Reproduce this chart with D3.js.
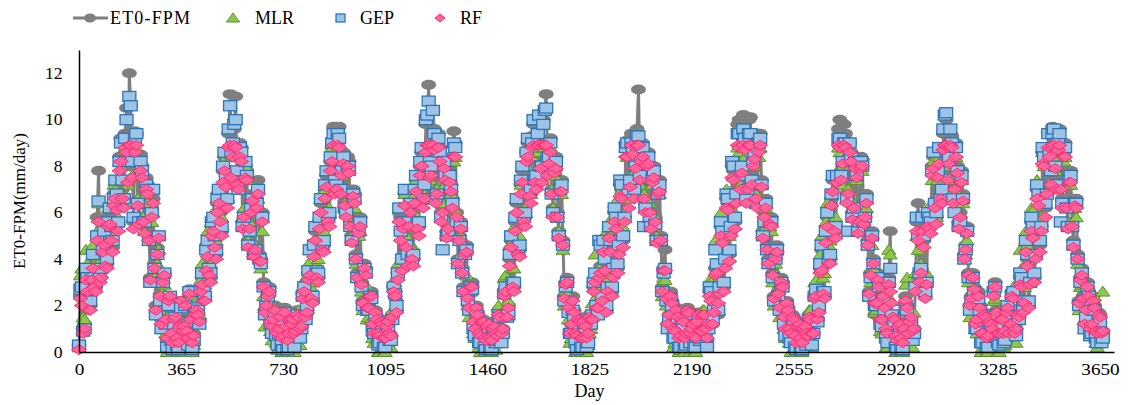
<!DOCTYPE html>
<html>
<head>
<meta charset="utf-8">
<script src="https://cdn.jsdelivr.net/npm/d3@7"></script>
<style>
  body { margin: 0; background: #fff; }
  svg { display: block; }
  svg text { font-family: "Liberation Serif", "Times New Roman", Times, "DejaVu Serif", serif; }
</style>
</head>
<body>
<div id="chart"></div>
<script>
// two interleaved samplings: days 0,10,20,... and days 5,15,25,...
var daysA = d3.range(0, 3661, 10);
var daysB = d3.range(5, 3656, 10);
var xTicks = [0, 365, 730, 1095, 1460, 1825, 2190, 2555, 2920, 3285, 3650];
var yTicks = [0, 2, 4, 6, 8, 10, 12];
var seriesNames = ["ET0-FPM", "MLR", "GEP", "RF"];

var et0A = [
  0.3,2.5,1.2,3.0,2.0,4.0,2.8,7.8,3.5,5.0,3.8,6.0,4.5,7.2,5.5,9.2,6.5,10.5,12.0,8.0,9.5,6.5,8.5,5.8,7.5,5.0,6.2,3.8,4.5,2.5,3.4,1.5,2.4,0.8,1.6,0.5,1.2,
  1.0,2.2,0.6,1.5,0.8,2.0,1.4,3.2,2.4,4.5,3.2,5.6,4.2,6.8,5.2,8.4,6.5,11.1,9.0,11.0,7.2,8.8,6.0,7.8,5.5,6.8,4.6,7.4,4.0,3.0,2.2,2.8,1.2,2.0,0.8,1.6,0.6,1.2,0.7,
  1.3,0.7,1.8,1.0,2.5,1.6,3.4,2.4,4.4,3.4,5.6,4.6,7.0,5.8,8.2,9.7,7.2,9.7,8.0,6.5,8.4,5.6,7.0,4.2,5.4,3.0,3.8,2.0,2.6,1.2,1.8,0.7,1.4,0.5,1.2,0.8,
  1.6,2.6,3.4,5.8,6.0,4.8,5.8,4.2,6.8,5.6,8.0,6.5,9.8,11.5,8.0,9.6,7.0,8.8,6.2,7.8,5.5,7.2,9.5,6.0,5.0,3.6,4.4,2.4,3.0,1.4,2.0,0.8,1.4,0.6,1.2,0.5,1.0,0.8,
  1.8,0.8,2.6,1.6,4.0,3.0,5.6,4.4,7.2,5.8,8.6,7.0,9.3,7.6,9.6,8.2,10.0,11.1,8.5,7.0,8.0,6.0,7.2,4.8,3.0,2.0,1.2,1.8,0.7,1.4,0.6,1.2,0.8,1.5,2.8,2.0,3.4,
  2.4,3.8,2.8,4.6,3.4,5.6,4.4,7.0,5.8,9.1,7.4,9.0,8.2,11.3,8.6,6.8,8.4,6.2,7.6,5.8,7.0,5.0,3.6,2.4,1.6,2.2,0.9,1.6,0.6,1.3,0.8,1.8,1.0,0.6,1.4,0.9,1.7,1.1,
  1.2,2.4,1.8,3.6,2.6,5.0,3.8,6.4,5.2,7.8,6.6,10.0,8.0,9.6,7.2,10.1,8.4,6.8,9.4,7.4,6.0,4.6,5.8,3.4,4.2,2.6,3.2,1.6,2.2,1.0,1.6,0.6,1.2,0.5,1.0,0.8,
  1.6,0.7,2.4,1.4,3.6,2.6,5.0,4.0,6.6,5.4,7.6,10.0,8.4,9.4,7.0,8.6,6.4,7.8,5.8,8.3,6.0,4.8,3.4,4.0,2.2,3.0,1.4,2.0,0.8,5.2,1.6,0.6,1.2,0.5,1.0,2.0,1.4,0.9,
  2.8,6.4,3.6,4.8,3.0,5.6,8.0,6.4,7.8,6.8,9.4,10.0,8.4,9.3,7.2,8.0,6.0,6.8,4.6,3.4,2.4,2.8,1.4,2.0,0.8,1.6,0.6,1.2,2.6,1.8,0.7,1.4,0.9,2.0,1.2,2.4,1.0,
  1.6,3.0,2.2,4.0,3.0,5.2,4.2,6.6,5.4,8.6,7.0,8.8,9.7,8.2,9.4,7.2,9.0,6.4,7.6,5.6,6.6,4.2,3.2,2.4,1.8,2.6,1.2,2.0,0.8,1.6,0.9
];
var et0B = [
  2.4,1.0,3.2,2.0,3.2,3.0,5.8,3.2,4.6,4.0,5.8,5.2,6.8,6.6,8.4,7.0,9.4,8.0,10.6,5.6,9.4,5.8,8.0,5.4,7.2,3.2,6.6,2.0,5.0,1.4,3.4,0.5,2.4,0.3,1.8,0.3,2.2,
  1.2,0.9,2.7,0.2,1.8,1.7,2.8,2.4,4.4,3.5,5.4,4.8,6.4,6.0,7.8,7.8,9.4,8.4,9.6,7.6,9.0,5.6,8.0,4.8,6.4,4.4,6.6,4.2,6.0,1.8,2.6,1.4,1.5,0.9,1.1,0.5,1.9,0.4,1.5,
  1.5,0.9,1.7,1.1,2.8,1.8,3.6,2.2,5.2,3.2,6.4,4.6,7.6,5.8,8.8,7.2,9.6,7.2,8.6,6.2,8.2,5.0,6.8,3.4,5.8,2.2,3.6,2.0,2.6,0.8,1.5,0.7,1.3,0.5,1.4,0.7,
  2.8,1.8,6.0,3.8,6.8,4.0,6.4,4.0,7.4,5.4,8.6,7.0,10.0,8.0,10.4,6.8,9.4,6.0,8.4,5.2,7.8,6.6,9.0,4.0,5.6,2.8,4.6,2.0,3.0,1.0,1.7,0.7,1.4,0.4,1.3,0.4,1.2,0.7,
  1.7,1.0,2.8,2.0,4.8,2.8,6.4,4.4,7.8,5.8,9.0,6.8,9.8,7.4,10.2,7.8,10.4,8.2,9.2,6.2,8.4,5.2,7.4,2.4,3.2,0.8,2.4,0.7,1.5,0.5,1.4,0.5,1.6,1.4,3.2,2.0,3.7,
  4.6,1.8,5.2,2.6,6.0,3.6,7.2,4.8,9.0,6.6,9.4,7.0,9.6,8.0,9.0,6.4,8.6,5.6,8.0,5.0,7.4,2.8,4.4,1.2,2.6,0.9,1.9,0.5,1.5,0.5,1.9,0.7,1.3,0.5,1.7,0.9,1.7,0.5,
  2.6,1.2,3.6,1.6,5.4,2.8,6.6,4.2,8.0,5.6,9.8,7.4,10.2,6.8,10.0,7.6,8.8,6.6,9.4,5.2,6.6,4.0,5.8,2.4,4.6,2.0,3.0,1.0,1.9,0.7,1.5,0.3,1.3,0.3,1.2,0.7,
  1.5,0.8,2.6,1.8,4.4,2.4,5.8,4.0,7.4,5.2,9.6,7.8,9.8,6.8,9.0,6.0,8.4,5.4,8.4,5.8,6.8,2.6,5.2,1.6,3.4,1.4,2.6,0.9,3.2,1.6,1.5,0.4,1.3,0.2,2.4,0.8,1.6,1.0,
  5.6,3.2,5.6,2.4,5.8,5.4,8.4,5.8,8.6,6.8,9.4,7.8,9.2,6.8,9.0,5.6,7.8,4.2,5.4,2.0,3.4,1.2,2.6,0.7,1.7,0.5,1.4,1.0,3.0,0.7,1.5,0.7,1.9,0.8,2.6,0.8,1.7,
  3.2,1.8,4.6,2.0,5.6,3.2,7.0,4.6,8.6,6.2,9.4,7.6,9.5,7.4,9.6,6.6,9.0,5.6,7.8,4.8,6.6,2.2,3.6,1.2,3.0,1.0,2.4,0.9,1.7,0.7
];

var mlrA = [
  0.2,3.6,1.4,3.8,2.6,4.6,3.4,6.4,4.0,5.6,4.4,6.4,5.0,7.0,5.8,8.0,6.4,8.2,8.6,7.6,8.2,6.6,7.6,5.8,6.8,4.8,5.6,3.2,3.8,1.8,2.6,0.8,1.6,0.2,0.9,0.0,0.6,
  0.3,1.8,0.1,1.2,0.3,2.2,1.6,3.8,2.9,5.2,3.8,6.0,4.8,7.0,5.8,8.0,6.6,8.8,8.4,8.8,7.2,8.0,6.2,7.4,5.6,6.4,4.6,6.6,3.6,2.4,1.6,2.2,0.5,1.2,0.1,0.8,0.0,0.6,0.0,
  0.8,0.0,1.4,0.3,2.8,1.6,3.8,2.8,4.8,3.8,5.8,5.0,7.0,6.0,7.8,8.4,7.0,8.4,7.6,6.4,7.8,5.6,6.6,3.8,5.0,2.6,3.4,1.4,2.0,0.6,1.2,0.0,0.8,0.0,0.6,0.2,
  1.8,3.0,3.8,5.4,5.6,5.0,5.8,4.6,6.8,5.8,7.6,6.6,8.4,8.8,7.6,8.4,7.0,8.0,6.4,7.2,5.6,6.8,8.2,6.0,5.0,3.4,4.2,2.0,2.6,0.8,1.4,0.2,0.8,0.0,0.6,0.0,0.4,0.1,
  2.0,0.6,3.2,2.0,4.6,3.6,5.8,4.8,7.2,6.0,8.0,7.0,8.4,7.4,8.6,7.8,8.8,9.0,8.0,7.0,7.6,5.8,6.8,4.4,2.6,1.4,0.6,1.2,0.0,0.8,0.0,0.6,0.3,1.0,3.2,2.4,3.6,
  2.8,4.2,3.2,5.0,3.8,6.0,4.8,7.0,6.0,8.4,7.2,8.4,7.8,8.8,8.0,6.8,7.8,6.4,7.2,5.8,6.8,4.8,3.2,2.0,1.2,1.8,0.4,1.2,0.1,0.8,0.3,1.4,0.5,0.0,1.0,0.4,1.8,0.6,
  1.6,3.0,2.4,4.4,3.2,5.6,4.4,6.6,5.6,7.6,6.8,8.6,7.8,8.4,7.2,8.6,8.0,6.8,8.4,7.2,5.8,4.4,5.4,3.0,3.8,2.2,2.8,1.0,1.6,0.4,1.0,0.0,0.6,0.0,0.4,0.2,
  1.8,0.2,3.0,1.8,4.2,3.2,5.6,4.6,6.8,5.8,7.6,8.6,8.0,8.4,7.0,8.0,6.4,7.4,5.8,7.8,6.0,4.6,3.0,3.6,1.8,2.6,0.8,1.4,0.2,4.2,1.0,0.0,0.6,0.0,0.4,3.2,0.8,0.2,
  3.4,4.4,3.8,5.2,3.4,5.8,7.4,6.4,7.4,6.6,8.4,8.8,8.0,8.6,7.0,7.6,5.8,6.4,4.2,3.0,1.8,2.4,0.8,1.4,0.2,1.0,0.0,0.6,2.2,1.2,0.0,0.8,0.3,1.6,0.6,2.8,0.4,
  2.0,3.6,2.8,4.6,3.6,6.1,4.8,6.8,5.8,8.0,7.0,8.2,8.6,7.8,8.4,7.2,8.2,6.4,7.2,5.4,6.2,3.8,2.8,2.0,1.4,2.6,0.8,2.4,0.2,1.2,2.6
];
var mlrB = [
  3.3,1.5,4.4,2.8,4.4,3.8,5.2,4.0,5.2,4.8,6.2,5.6,7.2,6.4,8.2,6.8,8.8,7.2,8.8,5.8,8.8,5.8,7.6,5.2,6.4,3.0,6.0,1.9,4.4,1.0,2.9,0.0,1.6,0.0,1.0,0.0,1.4,
  0.6,0.4,2.3,0.0,1.6,2.1,3.1,3.0,4.8,4.2,5.8,5.2,7.0,6.2,8.2,7.2,8.8,7.4,8.8,7.2,8.8,5.8,8.0,4.8,6.2,4.4,6.4,4.0,5.2,1.1,1.6,0.9,0.8,0.4,0.4,0.0,1.2,0.0,0.8,
  0.8,0.4,1.8,1.5,3.1,1.8,4.4,3.0,5.6,4.0,6.8,5.2,7.8,6.2,8.8,7.0,8.8,7.0,8.2,6.2,7.8,5.0,6.2,3.2,5.2,1.8,2.9,1.5,1.4,0.4,0.6,0.0,0.4,0.0,0.4,0.2,
  3.1,2.4,6.2,4.2,6.8,4.2,6.4,4.4,7.4,5.6,8.4,6.8,8.8,7.4,8.8,6.6,8.8,6.0,8.0,5.2,7.4,6.4,8.4,4.0,5.0,2.6,3.3,1.5,1.8,0.6,0.8,0.0,0.5,0.0,0.4,0.0,0.4,1.0,
  1.6,1.7,3.3,2.2,5.2,3.6,6.6,5.0,8.0,6.2,8.8,6.8,8.8,7.2,8.8,7.4,8.8,7.6,8.8,6.2,8.0,5.2,6.8,2.0,2.5,0.4,1.2,0.0,0.4,0.0,0.4,0.0,0.8,2.1,4.2,2.2,4.8,
  5.0,2.4,5.6,3.4,6.4,4.4,7.4,5.4,8.8,6.6,8.8,6.8,8.8,7.2,8.6,6.4,8.2,5.6,7.6,5.0,6.8,2.4,3.1,1.0,1.4,0.2,1.0,0.0,0.6,0.0,1.0,0.0,0.4,0.0,1.0,0.4,1.8,0.4,
  3.1,1.9,4.8,2.6,6.0,3.8,7.0,5.0,8.2,6.0,8.8,7.2,8.8,6.6,8.8,7.2,8.4,6.4,8.8,5.2,6.2,3.8,5.2,2.0,3.3,1.5,2.3,0.6,1.0,0.0,0.6,0.0,0.5,0.0,0.6,0.8,
  1.8,1.5,3.1,2.2,5.0,3.4,6.4,4.8,7.6,5.8,8.8,7.2,8.8,6.6,8.6,6.0,8.0,5.4,8.0,5.8,6.2,2.4,4.6,1.7,2.7,0.9,1.4,0.2,4.4,2.2,0.8,0.0,0.4,0.0,2.9,1.3,1.0,1.7,
  5.0,3.0,5.8,3.0,6.2,5.6,8.2,5.8,8.4,6.8,8.8,7.4,8.8,6.6,8.4,5.6,7.4,4.0,4.8,1.5,2.7,1.0,1.4,0.0,0.8,0.0,0.6,0.9,2.3,0.0,0.8,0.2,1.4,0.8,2.5,1.1,1.8,
  4.4,2.0,5.2,3.0,6.2,4.2,7.4,5.4,8.6,6.4,8.8,7.2,8.8,7.0,8.8,6.4,8.4,5.6,7.2,4.6,5.8,1.8,2.9,1.0,2.9,0.9,2.3,0.4,1.0,1.1
];

var gepA = [
  0.3,2.8,1.0,3.2,2.2,4.2,3.0,6.5,3.6,5.2,4.0,6.2,4.8,7.4,5.6,9.0,6.6,10.0,11.0,8.2,9.2,6.4,8.2,5.6,7.2,4.8,6.0,3.6,4.2,2.2,3.0,1.2,2.0,0.5,1.2,0.3,0.9,
  0.6,2.0,0.3,1.3,0.5,1.9,1.2,3.4,2.4,4.8,3.4,5.8,4.4,7.0,5.4,8.6,6.6,10.6,9.0,10.0,7.0,8.6,5.8,7.6,5.2,6.6,4.4,7.0,3.8,2.8,2.0,2.6,0.8,1.6,0.3,1.2,0.1,0.9,0.2,
  1.0,0.2,1.6,0.6,2.4,1.4,3.5,2.4,4.6,3.5,5.8,4.6,7.2,5.8,8.4,9.4,7.2,9.2,7.8,6.2,8.0,5.4,6.8,4.0,5.2,2.8,3.6,1.8,2.4,0.9,1.5,0.3,1.0,0.2,0.9,0.5,
  1.4,2.5,3.4,5.2,5.6,4.6,5.6,4.0,7.0,5.6,8.2,6.6,10.0,10.8,8.0,9.4,6.8,8.6,4.4,7.6,5.2,7.0,9.0,5.6,4.8,3.4,4.2,2.2,2.8,1.0,1.6,0.4,1.0,0.2,0.9,0.1,0.7,0.4,
  1.6,0.4,2.5,1.5,4.2,3.0,5.8,4.5,7.4,5.8,8.6,7.0,9.0,7.4,9.4,8.0,9.8,10.5,8.4,6.8,7.8,5.8,7.0,4.6,2.8,1.7,0.8,1.4,0.1,1.0,0.2,0.8,0.4,1.2,3.0,2.0,4.8,
  2.4,4.0,2.8,4.8,3.6,5.8,4.6,7.2,5.8,9.0,7.4,8.8,8.0,9.3,8.4,5.4,8.2,5.8,7.4,5.5,6.8,4.8,3.4,2.2,1.4,2.0,0.6,1.4,0.2,1.0,0.3,1.6,0.7,0.2,1.2,0.5,1.4,0.7,
  1.0,2.6,1.8,3.8,2.8,5.2,4.0,6.6,5.4,8.0,6.8,9.4,8.0,9.2,7.0,9.4,8.2,6.4,9.0,7.2,5.6,4.4,5.6,3.2,4.0,2.4,3.0,1.2,2.0,0.6,1.2,0.2,0.8,0.1,0.6,0.3,
  1.4,0.3,2.4,1.3,3.8,2.6,5.2,4.0,6.8,5.4,7.6,9.2,8.2,9.0,5.2,8.4,6.2,7.6,5.6,8.0,5.8,4.6,3.2,3.8,2.0,2.8,1.1,1.8,0.4,3.6,1.3,0.2,0.9,0.1,0.7,1.8,1.0,0.5,
  2.8,5.0,3.6,5.0,3.0,5.8,7.8,6.4,7.8,6.6,9.6,10.3,8.4,9.0,6.0,7.8,5.6,6.6,4.4,3.2,2.2,2.6,1.0,1.8,0.4,1.3,0.2,0.9,2.6,1.6,0.3,1.1,0.5,2.0,0.9,2.6,0.7,
  1.4,3.2,2.2,4.2,3.0,5.4,4.2,6.8,5.4,8.4,6.8,8.6,9.4,8.0,9.0,5.6,8.6,6.2,7.4,5.4,6.4,4.0,3.0,2.2,1.5,2.4,0.8,1.8,0.4,1.3,0.6
];
var gepB = [
  2.7,0.9,3.6,2.2,3.2,3.2,5.0,3.4,4.4,4.2,5.6,5.4,6.6,6.8,8.2,7.4,9.2,8.2,10.6,5.8,9.4,5.6,7.8,5.6,7.0,3.0,7.0,1.6,5.0,1.0,3.4,0.2,2.4,0.1,1.5,0.1,1.9,
  0.9,0.7,2.6,0.1,1.6,1.8,2.6,2.6,4.4,3.6,5.6,5.0,6.6,6.2,8.0,7.6,9.6,8.6,9.8,7.8,8.8,5.4,8.2,4.6,6.2,4.2,6.4,4.0,5.8,1.6,2.4,1.2,1.2,0.7,0.8,0.3,1.7,0.1,1.3,
  1.2,0.7,1.4,1.0,2.8,2.0,4.4,2.4,5.4,3.4,6.6,4.8,7.8,6.0,9.0,7.4,9.4,7.0,8.4,6.0,8.0,4.8,6.6,3.2,5.6,2.0,3.4,1.8,2.3,0.8,1.2,0.4,1.0,0.2,1.1,0.5,
  2.8,2.0,6.2,4.0,7.0,4.2,6.4,4.2,7.6,5.6,8.8,7.2,10.2,8.2,10.4,6.6,9.2,5.8,8.2,5.0,7.6,6.4,8.8,3.8,5.4,2.6,4.4,1.8,2.7,0.7,1.4,0.4,1.1,0.1,1.0,0.1,0.9,0.5,
  1.5,0.8,2.8,1.6,5.0,3.0,6.6,4.6,8.0,6.0,9.2,7.0,10.0,7.6,10.2,8.0,10.4,8.4,9.0,6.0,8.2,5.0,7.2,2.2,3.0,0.8,1.8,0.4,1.1,0.2,1.0,0.2,1.3,1.6,3.4,1.6,4.6,
  4.8,2.0,5.4,2.8,6.2,3.8,7.4,5.0,8.8,6.8,9.0,7.0,9.3,7.6,8.8,6.2,8.4,5.4,7.8,4.8,7.2,2.6,3.6,1.0,2.3,0.6,1.6,0.2,1.2,0.2,1.6,0.4,1.0,0.2,1.4,0.6,1.4,0.2,
  2.8,1.4,4.4,1.8,5.6,3.0,6.8,4.4,8.2,5.8,9.4,7.6,9.6,6.6,9.4,7.4,8.6,6.4,9.2,5.0,6.4,3.8,5.6,2.2,4.4,1.8,2.8,0.7,1.6,0.4,1.2,0.1,1.0,0.1,0.9,0.5,
  1.3,0.8,2.7,2.0,4.6,2.6,6.0,4.2,7.6,5.4,9.2,7.6,9.0,6.6,9.0,5.8,8.2,5.2,8.2,5.6,6.6,2.4,5.0,2.0,3.2,1.2,2.3,0.6,3.0,1.6,1.2,0.1,1.0,0.1,1.9,0.9,1.3,0.8,
  5.8,3.4,5.8,2.6,6.0,5.6,8.6,6.0,8.8,7.0,10.2,8.2,9.6,6.6,8.8,5.4,7.6,4.0,5.2,1.8,3.2,1.0,2.3,0.4,1.4,0.2,1.1,0.8,2.8,0.4,1.2,0.4,1.6,0.9,2.4,0.9,1.4,
  3.4,2.0,4.8,2.2,5.8,3.4,7.2,4.8,8.8,6.4,9.4,7.8,9.6,7.2,9.4,6.4,8.8,5.4,7.6,4.6,6.4,2.0,3.4,1.0,2.8,0.7,1.8,0.6,1.4,0.4
];

var rfA = [
  0.1,2.0,1.0,2.6,1.8,3.6,2.6,5.6,3.2,4.6,3.6,5.5,4.3,6.6,5.2,8.2,6.2,8.6,8.9,7.5,8.6,6.3,7.8,5.6,7.0,4.8,5.8,3.6,4.2,2.4,3.0,1.4,2.2,0.8,1.4,0.6,1.1,
  0.9,2.0,0.6,1.4,0.7,1.8,1.3,2.9,2.2,4.1,3.0,5.2,4.0,6.4,5.0,7.8,6.2,8.9,8.4,8.8,7.0,8.2,5.8,7.4,5.3,6.5,4.4,6.8,3.9,2.8,2.0,2.6,1.1,1.8,0.8,1.5,0.7,1.1,0.8,
  1.2,0.8,1.6,1.0,2.3,1.5,3.1,2.3,4.1,3.2,5.3,4.4,6.6,5.6,7.8,8.9,7.0,8.8,7.6,6.3,8.0,5.4,6.7,4.0,5.1,2.9,3.6,1.9,2.4,1.2,1.7,0.8,1.3,0.6,1.1,0.8,
  1.5,2.4,3.1,4.8,5.3,4.5,5.4,4.0,6.4,5.3,7.6,6.2,8.6,8.9,7.6,8.7,6.8,8.2,6.0,7.4,5.3,6.9,8.4,5.8,4.8,3.4,4.2,2.3,2.8,1.3,1.9,0.8,1.3,0.6,1.1,0.6,1.0,0.8,
  1.6,0.8,2.4,1.5,3.7,2.8,5.2,4.2,6.8,5.6,8.2,6.7,8.8,7.3,8.9,7.9,8.9,8.9,8.1,6.8,7.7,5.8,6.9,4.6,2.9,1.9,1.2,1.7,0.7,1.3,0.6,1.1,0.8,1.4,2.6,1.9,3.2,
  2.2,3.5,2.6,4.3,3.2,5.3,4.2,6.6,5.6,8.4,7.1,8.5,7.9,8.9,8.2,6.6,8.0,6.0,7.3,5.6,6.8,4.8,3.5,2.3,1.6,2.1,0.9,1.5,0.7,1.3,0.8,1.7,1.0,0.7,1.3,0.9,1.6,1.0,
  1.2,2.2,1.7,3.4,2.5,4.7,3.6,6.1,5.0,7.4,6.4,8.8,7.7,8.7,7.0,8.9,8.0,6.6,8.6,7.1,5.8,4.4,5.5,3.3,4.0,2.5,3.0,1.5,2.1,1.0,1.5,0.7,1.1,0.6,1.0,0.8,
  1.5,0.8,2.3,1.4,3.4,2.5,4.7,3.8,6.3,5.2,7.3,8.8,8.1,8.8,6.8,8.2,6.2,7.5,5.6,8.0,5.8,4.6,3.3,3.8,2.1,2.8,1.4,1.9,0.8,2.6,1.5,0.7,1.1,0.6,1.0,1.9,1.3,0.9,
  2.6,4.8,3.4,4.5,2.9,5.3,7.6,6.2,7.5,6.6,8.7,8.9,8.1,8.8,7.0,7.7,5.8,6.5,4.4,3.3,2.3,2.7,1.4,1.9,0.8,1.5,0.7,1.2,2.4,1.7,0.8,1.4,0.9,1.9,1.2,2.3,1.0,
  1.5,2.8,2.1,3.7,2.9,4.9,4.0,6.3,5.2,8.0,6.8,8.4,8.8,7.9,8.7,7.0,8.4,6.2,7.3,5.4,6.3,4.0,3.1,2.3,1.8,2.4,1.2,1.9,0.8,1.5,0.9
];
var rfB = [
  2.3,0.8,3.1,1.8,3.1,2.8,4.8,3.0,4.3,3.7,5.4,4.8,6.3,6.1,7.8,6.6,8.8,7.3,8.9,5.3,8.9,5.5,7.5,5.1,6.8,3.1,6.4,1.8,4.9,1.2,3.3,0.6,2.4,0.4,1.5,0.4,2.2,
  1.1,0.9,2.5,0.4,1.6,1.6,2.6,2.2,3.5,3.3,5.0,4.5,6.0,5.6,7.3,7.1,8.8,7.5,8.9,7.2,8.4,5.3,7.5,4.5,6.0,4.1,6.2,3.9,5.6,1.7,2.4,1.3,1.4,0.9,1.0,0.6,1.7,0.5,1.4,
  1.4,0.9,1.5,1.1,2.6,1.7,3.3,2.1,4.8,3.0,6.0,4.3,7.1,5.4,8.2,6.8,8.9,6.8,8.1,5.8,7.7,4.7,6.4,3.2,5.4,2.1,3.3,1.9,2.4,0.8,1.4,0.7,1.2,0.6,1.3,0.7,
  2.6,1.7,5.6,3.5,6.3,3.7,6.0,3.7,6.9,5.0,8.0,6.6,8.9,7.5,8.9,6.4,8.8,5.6,7.9,4.9,7.3,6.2,8.4,3.8,5.3,2.6,4.3,1.9,2.8,1.0,1.6,0.7,1.3,0.5,1.2,0.5,1.1,0.7,
  1.5,1.0,2.6,1.9,4.5,2.6,6.0,4.1,7.3,5.4,8.4,6.4,8.9,7.0,8.9,7.3,8.9,7.6,8.6,5.8,7.9,4.9,6.9,2.3,3.0,0.8,2.2,0.8,1.4,0.6,1.3,0.6,1.5,1.4,3.0,1.9,3.4,
  4.3,1.7,4.9,2.4,5.6,3.4,6.7,4.5,8.4,6.2,8.9,6.6,8.9,7.4,8.4,6.0,8.1,5.3,7.5,4.7,6.9,2.6,3.5,1.2,2.4,1.0,1.8,0.6,1.4,0.6,1.8,0.8,1.2,0.6,1.6,0.9,1.6,0.6,
  2.4,1.2,3.3,2.1,5.0,2.6,6.2,3.9,7.5,5.3,8.9,7.0,8.9,6.4,8.9,7.2,8.3,6.2,8.9,4.9,6.2,3.8,5.4,2.3,4.3,1.9,2.8,1.0,1.8,0.8,1.4,0.4,1.2,0.4,1.1,0.7,
  1.4,0.8,2.4,1.7,3.5,2.3,5.4,3.8,6.9,4.9,8.9,7.4,8.9,6.4,8.6,5.7,7.9,5.1,7.9,5.5,6.4,2.5,4.9,2.1,3.1,1.4,2.4,1.0,2.9,2.1,1.4,0.5,1.2,0.4,2.2,0.8,1.5,1.0,
  5.2,3.0,5.2,2.3,5.4,5.1,7.9,5.5,8.1,6.4,8.9,7.4,8.9,6.4,8.4,5.3,7.3,4.0,5.1,2.0,3.2,1.2,2.4,0.8,1.6,0.6,1.3,1.0,2.8,0.8,1.4,0.8,1.7,0.8,2.4,0.8,1.6,
  2.9,1.7,4.3,1.9,5.2,3.0,6.6,4.3,8.1,5.8,8.8,7.2,8.9,7.0,8.9,6.2,8.4,5.3,7.3,4.5,6.2,2.1,3.3,1.2,2.8,1.0,2.2,0.9,1.6,0.8
];

var colors = {
  et0: "#7f7f7f",
  mlrFill: "#8dc84d", mlrStroke: "#5b9030",
  gepFill: "#9dc3e6", gepStroke: "#2e75b6",
  rfFill: "#ff6399", rfStroke: "#ff2a74"
};

var svgWidth = 1132, svgHeight = 405;
var margin = {top: 50, right: 18, bottom: 53, left: 79};

var svg = d3.select("#chart")
  .append("svg")
    .attr("width", svgWidth)
    .attr("height", svgHeight);

var x = d3.scaleLinear().domain([0, 3700]).range([margin.left, svgWidth - margin.right]);
var y = d3.scaleLinear().domain([0, 13]).range([svgHeight - margin.bottom, margin.top]);

// marker shapes (flattened like the original)
var triPath = "M0,-5.5L7,4.5L-7,4.5Z";
var diaPath = "M0,-5L7.5,0L0,5L-7.5,0Z";

// merge the two samplings into one day-ordered list
function pts(a, b) {
  var out = a.map(function(v, i) { return {d: daysA[i], v: v}; })
    .concat(b.map(function(v, i) { return {d: daysB[i], v: v}; }));
  return out.sort(function(p, q) { return p.d - q.d; });
}
var et0 = pts(et0A, et0B), mlr = pts(mlrA, mlrB), gep = pts(gepA, gepB), rf = pts(rfA, rfB);

// ET0-FPM line + dots
var line = d3.line().x(function(p) { return x(p.d); }).y(function(p) { return y(p.v); });
svg.append("path")
  .datum(et0)
  .attr("d", line)
  .attr("fill", "none")
  .attr("stroke", colors.et0)
  .attr("stroke-width", 3);
svg.append("g").selectAll("ellipse")
  .data(et0)
  .enter().append("ellipse")
    .attr("cx", function(p) { return x(p.d); })
    .attr("cy", function(p) { return y(p.v); })
    .attr("rx", 7.5)
    .attr("ry", 5)
    .attr("fill", colors.et0);

// MLR triangles
svg.append("g").selectAll("path")
  .data(mlr)
  .enter().append("path")
    .attr("d", triPath)
    .attr("transform", function(p) { return "translate(" + x(p.d) + "," + y(p.v) + ")"; })
    .attr("fill", colors.mlrFill)
    .attr("stroke", colors.mlrStroke)
    .attr("stroke-width", 1);

// GEP squares
svg.append("g").selectAll("rect")
  .data(gep)
  .enter().append("rect")
    .attr("x", function(p) { return x(p.d) - 6.5; })
    .attr("y", function(p) { return y(p.v) - 5; })
    .attr("width", 13)
    .attr("height", 10)
    .attr("fill", colors.gepFill)
    .attr("stroke", colors.gepStroke)
    .attr("stroke-width", 1.3);

// RF diamonds
svg.append("g").selectAll("path")
  .data(rf)
  .enter().append("path")
    .attr("d", diaPath)
    .attr("transform", function(p) { return "translate(" + x(p.d) + "," + y(p.v) + ")"; })
    .attr("fill", colors.rfFill)
    .attr("stroke", colors.rfStroke)
    .attr("stroke-width", 1);

// axes
var xAxis = svg.append("g")
  .attr("transform", "translate(0," + y(0) + ")")
  .call(d3.axisBottom(x).tickValues(xTicks).tickFormat(d3.format("d")).tickSize(0).tickPadding(12));
var yAxis = svg.append("g")
  .attr("transform", "translate(" + margin.left + ",0)")
  .call(d3.axisLeft(y).tickValues(yTicks).tickSize(0).tickPadding(15));
[xAxis, yAxis].forEach(function(a) {
  a.attr("font-family", null).attr("font-size", null);
  a.select(".domain").attr("stroke", "#000").attr("stroke-width", 1.5);
  a.selectAll("text")
    .style("font-size", "16px")
    .attr("fill", "#000");
});
xAxis.selectAll("text").attr("transform", "scale(1.2,1)");
yAxis.selectAll("text").attr("transform", "scale(1.1,1)");

// axis titles
svg.append("text")
  .attr("transform", "translate(25," + (y(0) + y(13)) / 2 + ") rotate(-90)")
  .attr("text-anchor", "middle")
  .style("font-size", "17px")
  .text("ET0-FPM(mm/day)");
svg.append("text")
  .attr("x", (x(0) + x(3650)) / 2)
  .attr("y", 397)
  .attr("text-anchor", "middle")
  .style("font-size", "18px")
  .text("Day");

// legend
var lg = svg.append("g").style("font-size", "18px");
lg.append("line").attr("x1", 73).attr("x2", 108).attr("y1", 18).attr("y2", 18)
  .attr("stroke", colors.et0).attr("stroke-width", 3);
lg.append("ellipse").attr("cx", 90).attr("cy", 18).attr("rx", 6).attr("ry", 4.5).attr("fill", colors.et0);
lg.append("text").attr("x", 110).attr("y", 24).attr("textLength", 80).text(seriesNames[0]);
lg.append("path").attr("d", "M0,-5L6.5,4L-6.5,4Z").attr("transform", "translate(233,18)")
  .attr("fill", colors.mlrFill).attr("stroke", colors.mlrStroke);
lg.append("text").attr("x", 255).attr("y", 24).text(seriesNames[1]);
lg.append("rect").attr("x", 336).attr("y", 14).attr("width", 9).attr("height", 8)
  .attr("fill", colors.gepFill).attr("stroke", colors.gepStroke).attr("stroke-width", 1.3);
lg.append("text").attr("x", 360).attr("y", 24).text(seriesNames[2]);
lg.append("path").attr("d", "M0,-4L5,0L0,4L-5,0Z").attr("transform", "translate(440,18)")
  .attr("fill", colors.rfFill).attr("stroke", colors.rfStroke);
lg.append("text").attr("x", 460).attr("y", 24).text(seriesNames[3]);
</script>
</body>
</html>
